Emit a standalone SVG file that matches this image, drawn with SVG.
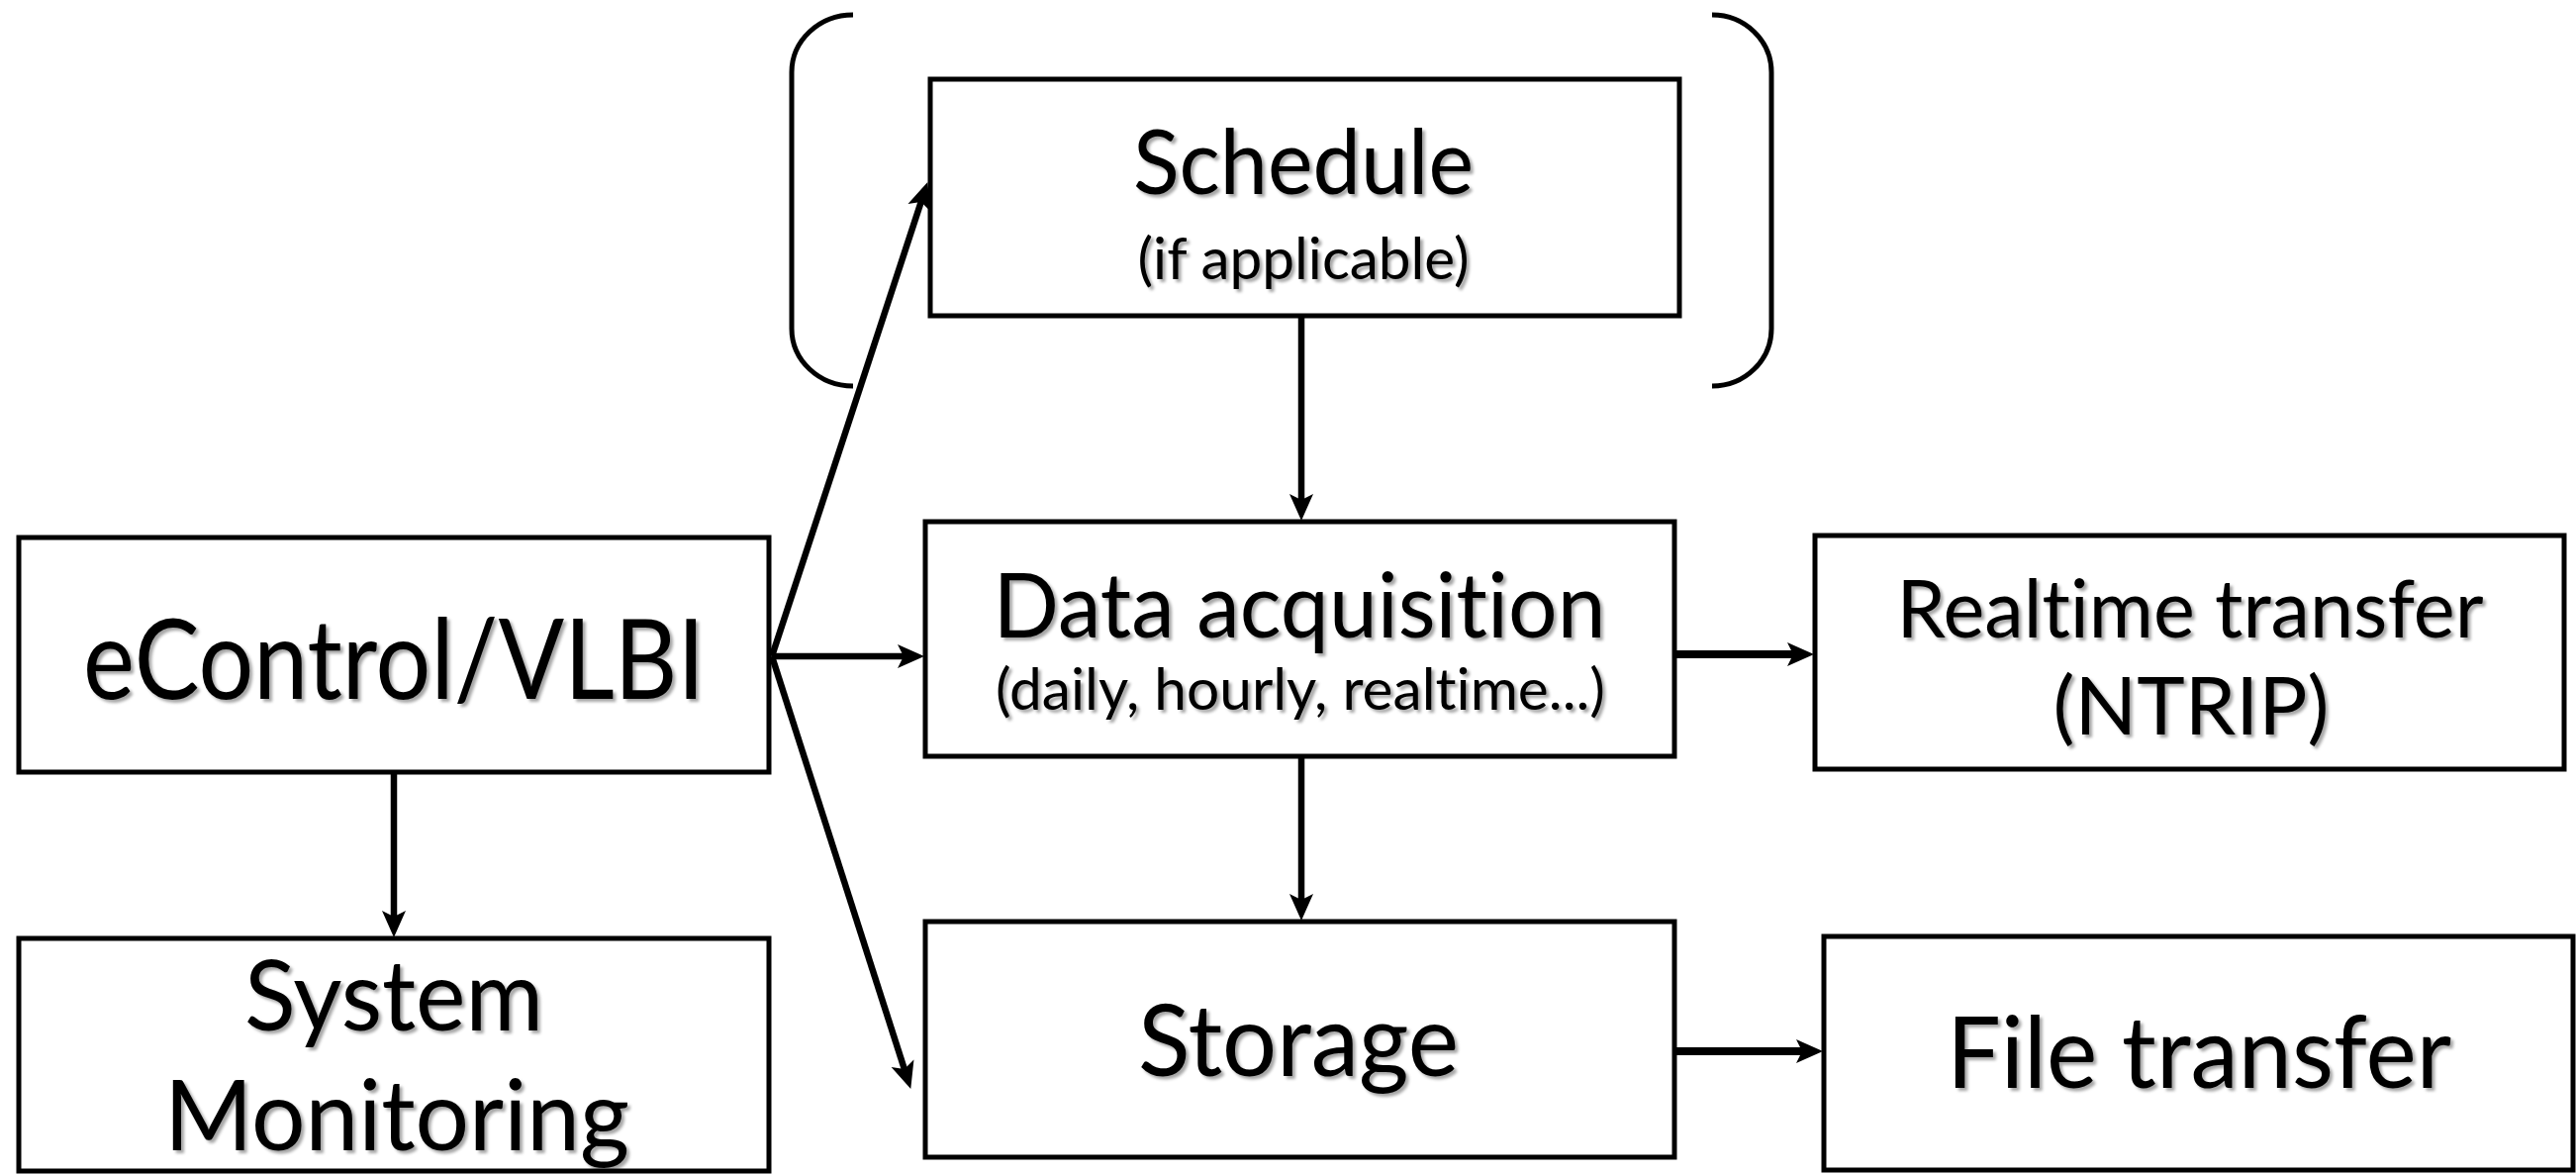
<svg xmlns="http://www.w3.org/2000/svg" width="2603" height="1186" viewBox="0 0 2603 1186">
  <defs>
    <style>
      .box { fill: #ffffff; stroke: #000000; stroke-width: 5; }
      .conn { fill: none; stroke: #000000; stroke-width: 6.5; }
      .conn.heavy { stroke-width: 8; }
      .brace { fill: none; stroke: #000000; stroke-width: 5; }
      .lbl { font-family: Lato, "Open Sans", "Liberation Sans", sans-serif; font-variant-ligatures: none; font-feature-settings: "liga" 0, "clig" 0; fill: #000000; text-anchor: middle; filter: url(#txtShadow); }
    </style>
    <filter id="txtShadow" x="-5%" y="-20%" width="110%" height="140%">
      <feDropShadow dx="3" dy="3" stdDeviation="1.6" flood-color="#000000" flood-opacity="0.35"/>
    </filter>
    <marker id="arrow" markerUnits="userSpaceOnUse" markerWidth="34" markerHeight="30" viewBox="-2 -15 34 30" refX="12" refY="0" orient="auto">
      <path d="M0,-12 L27,0 L0,12 L6,0 Z" fill="#000000"/>
    </marker>
  </defs>
  <rect width="2603" height="1186" fill="#ffffff"/>

  <!-- connectors -->
  <g id="connectors">
    <line class="conn" x1="780" y1="663" x2="919" y2="663" marker-end="url(#arrow)"/>
    <line class="conn" x1="780" y1="663" x2="932.6" y2="198.3" marker-end="url(#arrow)"/>
    <line class="conn" x1="780" y1="663" x2="915.7" y2="1085.7" marker-end="url(#arrow)"/>
    <line class="conn" x1="398" y1="780" x2="398" y2="932" marker-end="url(#arrow)"/>
    <line class="conn" x1="1315" y1="319" x2="1315" y2="511" marker-end="url(#arrow)"/>
    <line class="conn" x1="1315" y1="764" x2="1315" y2="915" marker-end="url(#arrow)"/>
    <line class="conn heavy" x1="1687" y1="661" x2="1818" y2="661" marker-end="url(#arrow)"/>
    <line class="conn heavy" x1="1687" y1="1062" x2="1827" y2="1062" marker-end="url(#arrow)"/>
  </g>

  <!-- optional-step brackets around the schedule -->
  <g id="bracket">
    <path class="brace" d="M862,15 A62,58 0 0 0 800,73 L800,332 A62,58 0 0 0 862,390"/>
    <path class="brace" d="M1730,15 A60,58 0 0 1 1790,73 L1790,332 A60,58 0 0 1 1730,390"/>
  </g>

  <g id="econtrol">
    <rect class="box" x="19" y="543" width="758" height="237"/>
    <text class="lbl" x="398" y="706" font-size="112" textLength="628" lengthAdjust="spacingAndGlyphs">eControl/VLBI</text>
  </g>

  <g id="monitoring">
    <rect class="box" x="19" y="948" width="758" height="235"/>
    <text class="lbl" x="398" y="1041" font-size="98" textLength="302" lengthAdjust="spacingAndGlyphs">System</text>
    <text class="lbl" x="401" y="1162" font-size="98" textLength="470" lengthAdjust="spacingAndGlyphs">Monitoring</text>
  </g>

  <g id="schedule">
    <rect class="box" x="940" y="80" width="757" height="239"/>
    <text class="lbl" x="1317" y="196" font-size="92" textLength="344" lengthAdjust="spacingAndGlyphs">Schedule</text>
    <text class="lbl" x="1317" y="282" font-size="58" textLength="335" lengthAdjust="spacingAndGlyphs">(if applicable)</text>
  </g>

  <g id="acquisition">
    <rect class="box" x="935" y="527" width="757" height="237"/>
    <text class="lbl" x="1313" y="644" font-size="92" textLength="619" lengthAdjust="spacingAndGlyphs">Data acquisition</text>
    <text class="lbl" x="1314" y="717" font-size="58" textLength="616" lengthAdjust="spacingAndGlyphs">(daily, hourly, realtime...)</text>
  </g>

  <g id="storage">
    <rect class="box" x="935" y="931" width="757" height="238"/>
    <text class="lbl" x="1312" y="1087" font-size="100" textLength="324" lengthAdjust="spacingAndGlyphs">Storage</text>
  </g>

  <g id="realtime">
    <rect class="box" x="1834" y="541" width="757" height="236"/>
    <text class="lbl" x="2213" y="644" font-size="82" textLength="593" lengthAdjust="spacingAndGlyphs">Realtime transfer</text>
    <text class="lbl" x="2214" y="742" font-size="82" textLength="279" lengthAdjust="spacingAndGlyphs">(NTRIP)</text>
  </g>

  <g id="filetransfer">
    <rect class="box" x="1843" y="946" width="757" height="236"/>
    <text class="lbl" x="2222" y="1099" font-size="100" textLength="510" lengthAdjust="spacingAndGlyphs">File transfer</text>
  </g>
</svg>
